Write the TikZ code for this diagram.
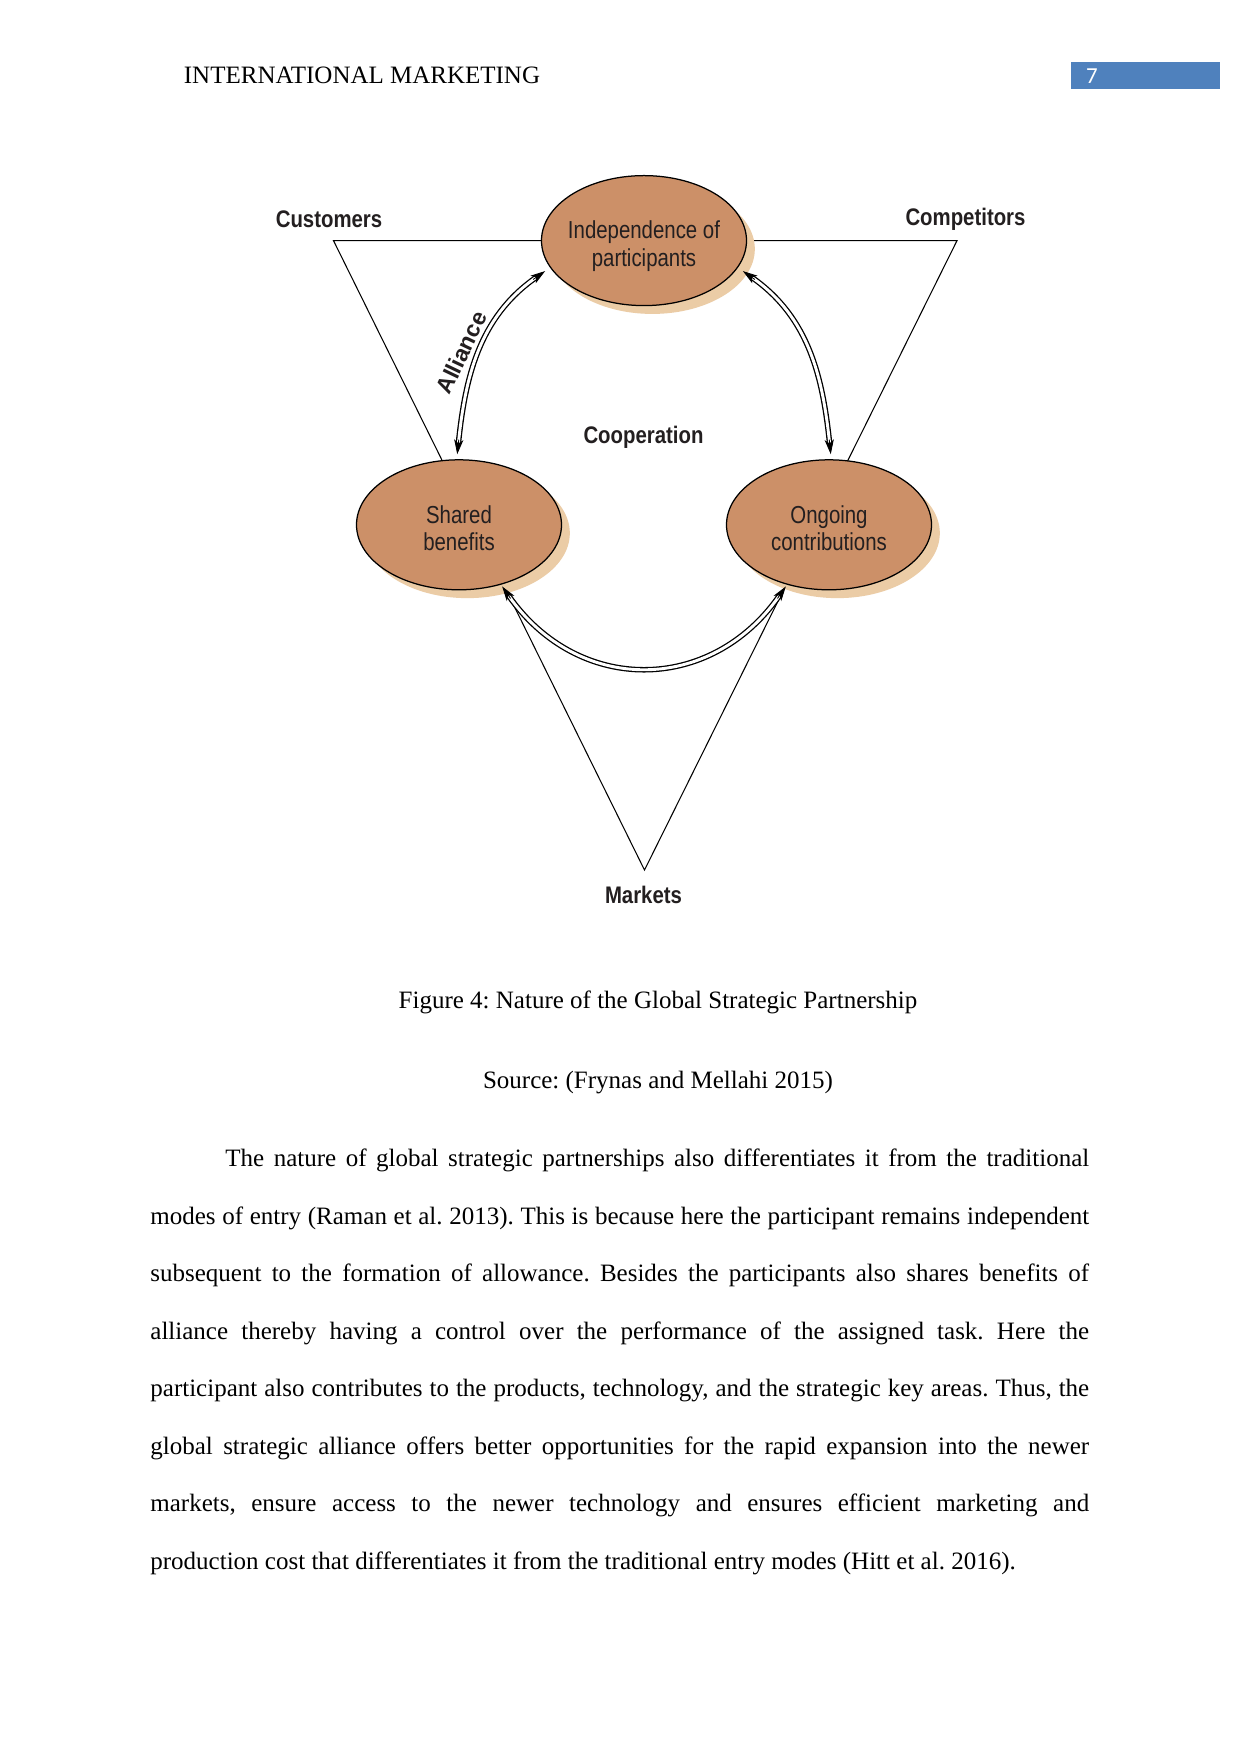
\documentclass[tikz,border=0pt]{standalone}
\usepackage{fontspec}
\setmainfont{Liberation Serif}
\newfontfamily\dsans[FakeStretch=0.83]{Liberation Sans}
\newfontfamily\lsans[FakeStretch=0.85]{Liberation Sans}
\newfontfamily\asans{Liberation Sans}
\newfontfamily\calib{Carlito}
\usetikzlibrary{shapes.geometric,arrows.meta,shadows,calc}
\definecolor{ellfill}{HTML}{CC9068}
\definecolor{shadowtan}{HTML}{EBCCA6}
\definecolor{hdrblue}{HTML}{4F81BD}
\definecolor{ink}{HTML}{231F20}
\newcommand{\bubtext}[2]{\raisebox{-6.1pt}[0pt][0pt]{\makebox[0pt][c]{\begin{tabular}{@{}c@{}}#1\\#2\end{tabular}}}}
\begin{document}
\begin{tikzpicture}[x=0.48pt,y=0.48pt,
  bubble/.style={ellipse, draw=black, line width=0.6pt, fill=ellfill,
    minimum width=98.4pt, minimum height=62.4pt, inner sep=0pt, text=ink,
    font=\dsans\fontsize{11.8}{13}\selectfont,
    drop shadow={shadow xshift=4pt, shadow yshift=-4pt, fill=shadowtan, opacity=1}},
  lbl/.style={font=\lsans\bfseries\fontsize{11.5}{13}\selectfont, text=ink, inner sep=0pt},
  tri/.style={draw=black, line width=0.5pt},
  linkline/.style={draw=black, line width=0.62pt, double=white, double distance=1.4pt},
  tip/.style={draw=black, fill=black, line width=0.4pt, -{Stealth[length=7pt,width=4.4pt,inset=1.8pt]}},
  serif/.style={font=\fontsize{12}{14}\selectfont\frenchspacing, inner sep=0pt}
]
\useasboundingbox[fill=white] (0,0) rectangle (1241,-1754);

% header
\node[serif, anchor=base west] (hdr) at (183.5,-83.5) {INTERNATIONAL MARKETING};
\node[fill=hdrblue, anchor=north west, minimum width=71.5pt, minimum height=12.9pt, inner sep=0pt] (pgbox) at (1071,-61.5) {};
\node[anchor=base, inner sep=0pt, text=white, font=\calib\fontsize{11}{13}\selectfont] (pgnum) at (1092,-83) {7};

% triangle
\coordinate (cust) at (333.5,-240.6);
\coordinate (comp) at (957,-240.6);
\coordinate (mkt) at (644.5,-870);
\draw[tri] (cust) -- (comp) -- (mkt) -- cycle;

% bubbles
\node[bubble] (top) at (644,-240.6) {\bubtext{Independence of}{participants}};
\node[bubble] (sb) at (459,-524.8) {\bubtext{Shared}{benefits}};
\node[bubble] (oc) at (829,-524.8) {\bubtext{Ongoing}{contributions}};

% labels
\node[lbl] (custl) at (329,-219) {Customers};
\node[lbl] (compl) at (965.5,-219.5) {Competitors};
\node[lbl] (coop) at (643.5,-437.5) {Cooperation};
\node[lbl] (mktl) at (643.5,-895) {Markets};
\node[font=\asans\bfseries\fontsize{11}{13}\selectfont, text=ink, inner sep=0pt, rotate=64.5] (alli) at (461.5,-352.5) {Alliance};

% link end points
\coordinate (ltop) at ($(top.200)+(-4.5pt,1pt)$);
\coordinate (rtop) at ($(top.340)+(4.5pt,1pt)$);

% links: double lines
\draw[linkline, shorten <=7.9pt, shorten >=5.5pt] (sb.92) to[out=84, in=215] (ltop);
\draw[linkline, shorten <=5.5pt, shorten >=7.9pt] (rtop) to[out=325, in=96] (oc.88);
\draw[linkline, shorten <=6.5pt, shorten >=6.5pt] (sb.305) to[out=-55, in=235, looseness=1.2] (oc.235);

% links: solid arrow tips along the end tangents
\draw[tip] ($(sb.92)+(84:9.4pt)$) -- ($(sb.92)+(84:2.4pt)$);
\draw[tip] ($(ltop)+(215:7pt)$) -- (ltop);
\draw[tip] ($(rtop)+(325:7pt)$) -- (rtop);
\draw[tip] ($(oc.88)+(96:9.4pt)$) -- ($(oc.88)+(96:2.4pt)$);
\draw[tip] ($(sb.305)+(-55:8pt)$) -- ($(sb.305)+(-55:1pt)$);
\draw[tip] ($(oc.235)+(235:8pt)$) -- ($(oc.235)+(235:1pt)$);

% caption
\node[serif, anchor=base] (cap) at (658,-1008) {Figure 4: Nature of the Global Strategic Partnership};
\node[serif, anchor=base] (src) at (658,-1088.5) {Source: (Frynas and Mellahi 2015)};

% body
\node[anchor=base west, inner sep=0pt] (body) at (150,-1166.5) {\parbox[t]{450.6pt}{\fontsize{12}{27.6}\selectfont\frenchspacing
\hyphenpenalty=10000 \tolerance=10000 \emergencystretch=20pt
\noindent\hspace*{36pt}The nature of global strategic partnerships also differentiates it from the traditional\linebreak
modes of entry (Raman et al. 2013). This is because here the participant remains independent\linebreak
subsequent to the formation of allowance. Besides the participants also shares benefits of\linebreak
alliance thereby having a control over the performance of the assigned task. Here the\linebreak
participant also contributes to the products, technology, and the strategic key areas. Thus, the\linebreak
global strategic alliance offers better opportunities for the rapid expansion into the newer\linebreak
markets, ensure access to the newer technology and ensures efficient marketing and\linebreak
production cost that differentiates it from the traditional entry modes (Hitt et al. 2016).\par}};
\end{tikzpicture}
\end{document}
